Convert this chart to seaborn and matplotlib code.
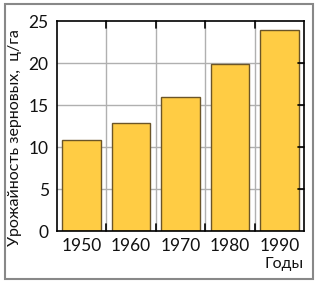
import matplotlib
matplotlib.use("Agg")
import matplotlib.pyplot as plt
import seaborn as sns
import pandas as pd
from matplotlib.patches import Rectangle

years = ["1950", "1960", "1970", "1980", "1990"]
yields = [10.8, 12.9, 15.9, 19.9, 23.9]
y_ticks = [0, 5, 10, 15, 20, 25]
y_label = "Урожайность зерновых,  ц/га"
x_label = "Годы"

sns.set_style("white")
plt.rcParams['font.family'] = ['Lato', 'DejaVu Sans']

df = pd.DataFrame({"year": years, "value": yields})

fig = plt.figure(figsize=(3.15, 2.85), dpi=100)
ax = fig.add_axes([57/315, 1-231/285, (304-57)/315, (231-21)/285])

sns.barplot(data=df, x="year", y="value", ax=ax, color="#FFCC44",
            edgecolor="#6b5528", linewidth=1.0, width=0.78, saturation=1)

ax.set_ylim(0, 25)
ax.set_xlim(-0.5, 4.5)
ax.set_yticks(y_ticks)
ax.set_yticklabels([str(t) for t in y_ticks], fontsize=12.5, color="#111111")
ax.tick_params(axis='x', labelsize=12.5, colors="#111111", length=0, pad=5)
ax.tick_params(axis='y', direction='out', length=4, width=1, color="black", pad=2)
ax.set_xlabel("")
ax.set_ylabel("")
fig.text(15/315, 1-138/285, y_label, rotation=90, ha="center", va="center",
         fontsize=11.5, color="#111111")

# grid lines
for v in y_ticks[1:-1]:
    ax.axhline(v, color="#b0b0b0", lw=1.0, zorder=0)
for x in [0.5, 1.5, 2.5, 3.5]:
    ax.axvline(x, color="#b0b0b0", lw=1.0, zorder=0)
    ax.plot([x, x], [25, 24.2], color="black", lw=1.2, clip_on=False, zorder=5)
    ax.plot([x, x], [0, 0.8], color="black", lw=1.2, clip_on=False, zorder=5)
for v in y_ticks[1:-1]:
    ax.plot([4.5, 4.37], [v, v], color="black", lw=1.2, clip_on=False, zorder=5)

for s in ax.spines.values():
    s.set_color("black")
    s.set_linewidth(1.2)
    s.set_visible(True)

fig.text(304/315, 1-271/285, x_label, ha="right", va="bottom", fontsize=11.5,
         color="#111111")

fig.patches.append(Rectangle((5/315, 1-279/285), (313-5)/315, (279-4)/285,
                             transform=fig.transFigure, fill=False,
                             edgecolor="#888888", lw=1.5))

fig.savefig("out.png", dpi=100)
